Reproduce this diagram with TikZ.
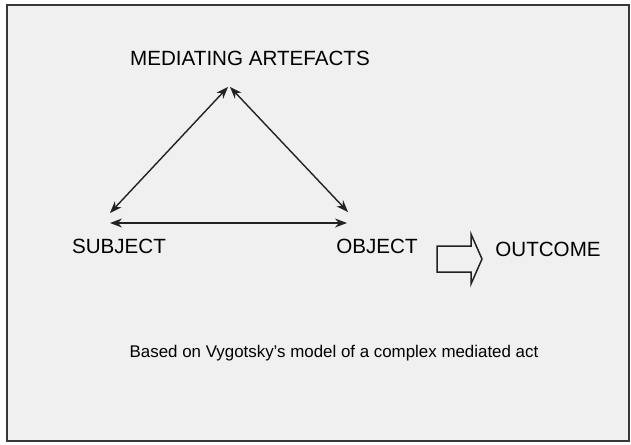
\documentclass[tikz,border=0pt]{standalone}
\usepackage{fontspec}
\setmainfont{Liberation Sans}
\usepackage{tikz}
\usetikzlibrary{positioning,arrows.meta}
\definecolor{panel}{HTML}{F0F0F0}
\definecolor{ink}{HTML}{222222}
\tikzset{lbl/.style={inner sep=0pt,text=black,font=\fontsize{20.6}{24}\selectfont},
	 small/.style={lbl,font=\fontsize{16.9}{20}\selectfont},
	 link/.style={ink,line width=1.4pt,{Stealth[length=12pt,width=9pt]}-{Stealth[length=12pt,width=9pt]}},
	 frame/.style={draw=ink!90,line width=2pt,fill=panel}
	 }
\begin{document}
\begin{tikzpicture}[x=1pt,y=-1pt]
	\useasboundingbox (0,0) rectangle (631,444);
	\draw[frame] (7,5) rectangle (629,441);
	\node[lbl] (ma) at (250,58.5) {MEDIATING ARTEFACTS};
	\node[lbl] (subj) at (119,246.5) {SUBJECT};
	\node[lbl] (obj) at (377,246) {OBJECT};
	\node[lbl] (out) at (548,249.5) {OUTCOME};
	\node[small] (note) at (334,353) {Based on Vygotsky’s model of a complex mediated act};
	% ends of the arrows
	\coordinate (ma-l) at (228,87);
	\coordinate (ma-r) at (230,87);
	\coordinate (subj-up) at (110,213);
	\coordinate (obj-up) at (348,212);
	\coordinate (subj-lo) at (110,223);
	\coordinate (obj-lo) at (347,223);
	\draw[link] (subj-up) to (ma-l);
	\draw[link] (ma-r) to (obj-up);
	\draw[link] (subj-lo) to (obj-lo);
	% outcome arrow
	\draw[ink,line width=1.5pt,fill=panel] (437,246) -- (471,246) -- (471,234) -- (482,259)
	  -- (471,284) -- (471,272) -- (437,272) -- cycle;
\end{tikzpicture}
\end{document}
